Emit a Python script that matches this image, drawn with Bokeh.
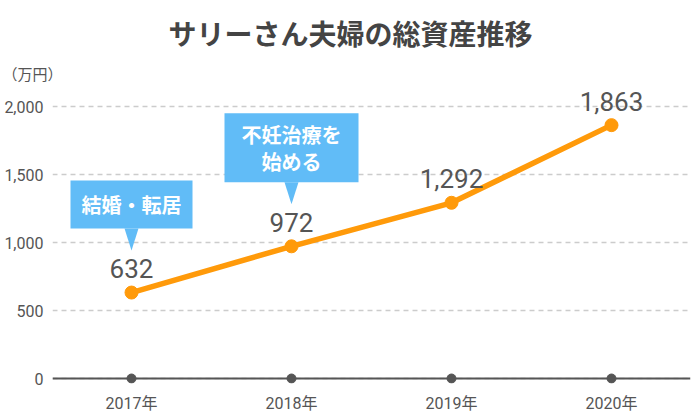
from bokeh.plotting import figure
from bokeh.models import Range1d, FixedTicker, NumeralTickFormatter, Span, Title
from bokeh.embed import file_html
from bokeh.resources import INLINE
from bokeh.core.properties import value

# ---- data ----
years = [2017, 2018, 2019, 2020]
year_labels = ["2017年", "2018年", "2019年", "2020年"]
assets = [632, 972, 1292, 1863]
value_labels = ["632", "972", "1,292", "1,863"]
y_ticks = [0, 500, 1000, 1500, 2000]
events_year = [2017, 2018]
events_text = [["結婚・転居"], ["不妊治療を", "始める"]]
title_text = "サリーさん夫婦の総資産推移"
unit_text = "（万円）"

CJK = "Noto Sans CJK JP"
NUM = "Roboto, 'Noto Sans CJK JP'"
ORANGE = "#ff9a0a"
BLUE = "#61bcf7"
GRAY = "#555555"

# scale helpers (pixels -> data units)
YPX = 2000 / 272.0
XPX = 1 / 160.0
TOP = 86  # frame top in px
BOTTOM = 383  # frame bottom in px

p = figure(width=700, height=420, output_backend="svg", toolbar_location=None,
           min_border_left=52, min_border_right=10, min_border_top=TOP,
           min_border_bottom=420 - BOTTOM,
           x_range=Range1d(2017 - 79 * XPX, 2020 + 79 * XPX),
           y_range=Range1d(-(BOTTOM - 378) * YPX, 2000 + (106 - TOP) * YPX))
p.outline_line_color = None
p.background_fill_color = "white"
p.border_fill_color = "white"

# titles
p.add_layout(Title(text=unit_text, align="left", offset=-50, text_font=CJK,
                   text_font_size="15px", text_font_style="normal", text_color=GRAY,
                   standoff=6), "above")
p.title.text = title_text
p.title.align = "left"
p.title.offset = 116
p.title.text_font = CJK
p.title.text_font_size = "28px"
p.title.text_font_style = "bold"
p.title.text_color = "#444444"

# axes
p.yaxis.ticker = FixedTicker(ticks=y_ticks)
p.yaxis.formatter = NumeralTickFormatter(format="0,0")
p.yaxis.axis_line_color = None
p.yaxis.major_tick_line_color = None
p.yaxis.minor_tick_line_color = None
p.yaxis.major_label_standoff = 3
p.yaxis.major_label_text_font = NUM
p.yaxis.major_label_text_font_size = "16px"
p.yaxis.major_label_text_color = GRAY

p.xaxis.ticker = FixedTicker(ticks=years)
p.xaxis.major_label_overrides = {y: l for y, l in zip(years, year_labels)}
p.xaxis.axis_line_color = None
p.xaxis.major_tick_line_color = None
p.xaxis.minor_tick_line_color = None
p.xaxis.major_label_standoff = 4
p.xaxis.major_label_text_font = NUM
p.xaxis.major_label_text_font_size = "16px"
p.xaxis.major_label_text_color = GRAY

p.xgrid.grid_line_color = None
p.ygrid.grid_line_color = "#cccccc"
p.ygrid.grid_line_dash = "5 4"
p.ygrid.grid_line_width = 1.5

zero = Span(location=0, dimension="width", line_color=GRAY, line_width=2, level="underlay")
p.add_layout(zero)

# axis dots
p.scatter(years, [0] * len(years), size=9, color=GRAY)

# main line
p.line(years, assets, line_color=ORANGE, line_width=5.5)
p.scatter(years, assets, size=13, color=ORANGE)

# value labels
p.text(years, assets, text=value_labels, text_font=value(NUM), text_font_size="26px",
       text_color=GRAY, text_align="center", text_baseline="middle", y_offset=-24)

# callouts
for yr, lines in zip(events_year, events_text):
    v = assets[years.index(yr)]
    tip = v + 42 * YPX
    base = tip + 22 * YPX
    h = 48 if len(lines) == 1 else 69
    w = 122 if len(lines) == 1 else 134
    top = base + h * YPX
    p.quad(left=[yr - w / 2 * XPX], right=[yr + w / 2 * XPX], bottom=[base], top=[top],
           color=BLUE, line_color=None)
    p.patch([yr - 7 * XPX, yr + 7 * XPX, yr], [base + 1, base + 1, tip], color=BLUE, line_color=None)
    n = len(lines)
    for i, t in enumerate(lines):
        cy = (base + top) / 2 + ((n - 1) / 2 - i) * 27 * YPX
        p.text([yr], [cy], text=[t], text_font=value(CJK), text_font_size="20px",
               text_font_style="bold", text_color="white", text_align="center",
               text_baseline="middle")

open("out.html", "w").write(file_html(p, INLINE))
